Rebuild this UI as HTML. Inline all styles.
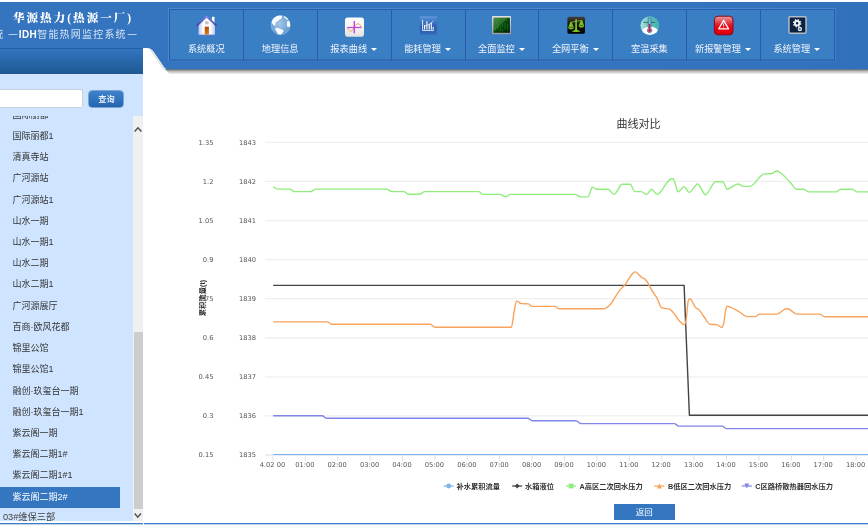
<!DOCTYPE html><html lang="zh"><head><meta charset="utf-8"><title>IDH智能热网监控系统</title><style>
html,body{margin:0;padding:0;}
body{width:868px;height:525px;overflow:hidden;background:#fff;position:relative;font-family:"Liberation Sans","Noto Sans CJK SC",sans-serif;}
.abs{position:absolute;}
#side{left:0;top:73px;width:143px;height:448px;background:#cfe4fe;overflow:hidden;}
#sidehead{z-index:3;left:0;top:48px;width:143px;height:25.7px;background:linear-gradient(#1d4f8c 0,#3275c2 1.2px,#2f72bb 4px,#1e5891);}
#search{left:-20px;top:89px;width:101px;height:17px;border:1px solid #c9d3de;border-radius:2px;background:#fff;}
#btn{left:89.3px;top:90.5px;width:34.2px;height:16.4px;border-radius:3px;overflow:hidden;background:linear-gradient(#3f83cb,#2465b0);color:#fff;font-size:8.2px;font-weight:500;text-align:center;line-height:18.4px;box-shadow:0 0 0 0.5px #2a62a8;}
.li{position:absolute;left:0;width:120px;height:21.2px;line-height:21.2px;font-size:9px;color:#333;padding-left:12.5px;box-sizing:border-box;white-space:nowrap;}
.li.sel{background:#3576c1;color:#fff;}
#sbar{left:132.5px;top:116px;width:10.5px;height:405px;background:#f0f0f0;}
#thumb{left:133.5px;top:332px;width:9px;height:177px;background:#cdcdcd;}
#botline{left:0;top:522.8px;width:868px;height:1.2px;background:#3d7cc9;border-bottom:1px solid #bdd3f0;}#botgap{left:143px;top:522px;width:1.2px;height:3px;background:#fff;}
#back{left:614px;top:504px;width:60.7px;height:16px;background:#3576c1;color:#fff;font-size:8.5px;text-align:center;line-height:16px;}
.nt{position:absolute;top:42px;height:14px;line-height:14px;font-size:9.2px;color:#f1f5fb;white-space:nowrap;text-align:center;width:73.85px;}
.nt i{display:inline-block;width:0;height:0;border-left:3px solid transparent;border-right:3px solid transparent;border-top:3.2px solid #fff;margin-left:4px;vertical-align:middle;position:relative;top:-0.5px;}
#t1{left:13px;top:9px;font-family:"Liberation Serif","Noto Serif CJK SC",serif;font-weight:900;font-size:11.5px;letter-spacing:2.05px;color:#fff;white-space:nowrap;line-height:18px;}
#t2{left:-6.8px;top:26px;font-size:10px;letter-spacing:1.2px;color:#d3e1f4;white-space:nowrap;line-height:18px;}
#t2 b{color:#fff;letter-spacing:0.4px;}#t2 .ds{font-size:8.8px;font-weight:bold;letter-spacing:0;position:relative;top:-0.8px;color:#bcd3ef;}
</style></head><body>
<svg class="abs" style="left:0;top:0" width="868" height="80" viewBox="0 0 868 80">
<defs><filter id="sh" x="-2%" y="-10%" width="104%" height="130%"><feGaussianBlur in="SourceAlpha" stdDeviation="1.5"/><feOffset dy="2"/><feComponentTransfer><feFuncA type="linear" slope="0.85"/></feComponentTransfer><feMerge><feMergeNode/><feMergeNode in="SourceGraphic"/></feMerge></filter>
<linearGradient id="hg" x1="0" x2="1" y1="0" y2="0"><stop offset="0" stop-color="#3575bf"/><stop offset="0.8" stop-color="#3473be"/><stop offset="1" stop-color="#3170bb"/></linearGradient></defs>
<linearGradient id="shg" x1="0" x2="0" y1="0" y2="1"><stop offset="0" stop-color="#000" stop-opacity="0.62"/><stop offset="0.35" stop-color="#000" stop-opacity="0.3"/><stop offset="1" stop-color="#000" stop-opacity="0"/></linearGradient><path d="M165 69H868V74.6H170Z" fill="url(#shg)"/><path d="M151 49L164 68L166.5 69.6L165.5 70.6L162.6 68.6L150 50Z" fill="#000" opacity="0.12"/>
<path fill="url(#hg)" d="M0 2H868V69.3H169C166.5 69.3 165.3 68.8 164.2 67.3L153.4 51.6C151.8 49.4 150 48 147 48H0Z"/>
<path d="M168.5 61V8.5H835.5" fill="none" stroke="#4789d3" stroke-width="1"/><path d="M835.5 8.5V61H168.5" fill="none" stroke="#3d7fca" stroke-width="1"/><rect x="169.5" y="9.5" width="665" height="50.5" fill="#3a7ec4" stroke="#2b5aaa" stroke-width="1"/>

<line x1="243.5" y1="10" x2="243.5" y2="60" stroke="#2b5aaa" stroke-width="1"/>
<line x1="317.5" y1="10" x2="317.5" y2="60" stroke="#2b5aaa" stroke-width="1"/>
<line x1="391.5" y1="10" x2="391.5" y2="60" stroke="#2b5aaa" stroke-width="1"/>
<line x1="465.5" y1="10" x2="465.5" y2="60" stroke="#2b5aaa" stroke-width="1"/>
<line x1="538.5" y1="10" x2="538.5" y2="60" stroke="#2b5aaa" stroke-width="1"/>
<line x1="612.5" y1="10" x2="612.5" y2="60" stroke="#2b5aaa" stroke-width="1"/>
<line x1="686.5" y1="10" x2="686.5" y2="60" stroke="#2b5aaa" stroke-width="1"/>
<line x1="760.5" y1="10" x2="760.5" y2="60" stroke="#2b5aaa" stroke-width="1"/>
</svg>
<div class="abs" id="t1">华源热力(热源一厂)</div>
<div class="abs" id="t2">统 <span class="ds" style="margin-right:1.6px">—</span><b>IDH</b>智能热网监控系统<span class="ds" style="margin-left:1px">—</span></div>
<div class="nt" style="left:169.40px">系统概况</div>
<div class="nt" style="left:243.25px">地理信息</div>
<div class="nt" style="left:316.80px">报表曲线<i></i></div>
<div class="nt" style="left:390.65px">能耗管理<i></i></div>
<div class="nt" style="left:464.50px">全面监控<i></i></div>
<div class="nt" style="left:538.35px">全网平衡<i></i></div>
<div class="nt" style="left:612.50px">室温采集</div>
<div class="nt" style="left:686.05px">新报警管理<i></i></div>
<div class="nt" style="left:759.90px">系统管理<i></i></div>
<svg class="abs" style="left:0;top:0" width="868" height="64" viewBox="0 0 868 64">
<defs>
<linearGradient id="g_roof" x1="0" y1="0" x2="0" y2="1"><stop offset="0" stop-color="#8584e6"/><stop offset="1" stop-color="#3c3fa6"/></linearGradient>
<linearGradient id="g_wall" x1="0" y1="0" x2="1" y2="0"><stop offset="0" stop-color="#c4c4f6"/><stop offset="0.3" stop-color="#ffffff"/><stop offset="0.7" stop-color="#ffffff"/><stop offset="1" stop-color="#c9c9f8"/></linearGradient>
<linearGradient id="g_door" x1="0" y1="0" x2="0" y2="1"><stop offset="0" stop-color="#a84a04"/><stop offset="0.5" stop-color="#c8640c"/><stop offset="1" stop-color="#d8781c"/></linearGradient>
<radialGradient id="g_globe" cx="0.45" cy="0.42" r="0.6"><stop offset="0" stop-color="#a4c8e8"/><stop offset="0.7" stop-color="#74a8d6"/><stop offset="1" stop-color="#5c96ca"/></radialGradient>
<linearGradient id="g_white" x1="0" y1="0" x2="0" y2="1"><stop offset="0" stop-color="#ffffff"/><stop offset="0.5" stop-color="#f4f4f4"/><stop offset="1" stop-color="#e2e2e2"/></linearGradient>
<linearGradient id="g_bsq" x1="0" y1="0" x2="0" y2="1"><stop offset="0" stop-color="#66a2e2"/><stop offset="0.12" stop-color="#4a84cf"/><stop offset="0.6" stop-color="#2e5eae"/><stop offset="1" stop-color="#3468b8"/></linearGradient>
<linearGradient id="g_mx" x1="0" y1="0" x2="1" y2="1"><stop offset="0" stop-color="#4a8a4a"/><stop offset="0.45" stop-color="#2c6a2c"/><stop offset="0.46" stop-color="#0c4a0c"/><stop offset="1" stop-color="#031a03"/></linearGradient>
<linearGradient id="g_frame" x1="0" y1="0" x2="0" y2="1"><stop offset="0" stop-color="#e4e4e4"/><stop offset="1" stop-color="#9a9aa0"/></linearGradient>
<linearGradient id="g_blk" x1="0" y1="0" x2="0" y2="1"><stop offset="0" stop-color="#45403a"/><stop offset="0.4" stop-color="#181818"/><stop offset="1" stop-color="#000000"/></linearGradient>
<linearGradient id="g_teal" x1="0" y1="0" x2="1" y2="0"><stop offset="0" stop-color="#aee6de"/><stop offset="0.5" stop-color="#5cc0ba"/><stop offset="1" stop-color="#42b2ae"/></linearGradient>
<linearGradient id="g_red" x1="0" y1="0" x2="0" y2="1"><stop offset="0" stop-color="#eaa0a0"/><stop offset="0.45" stop-color="#e02030"/><stop offset="0.6" stop-color="#f4000c"/><stop offset="1" stop-color="#d80010"/></linearGradient>
<clipPath id="c_globe"><circle cx="280.6" cy="25.1" r="9.8"/></clipPath>
<clipPath id="c_th"><circle cx="649.9" cy="25.6" r="9.4"/></clipPath>
</defs>
<!-- 1 house -->
<g>
<rect x="211.9" y="16.8" width="2.6" height="7" fill="#ffffff"/>
<path d="M198.6 25.2L206.6 17.6L214.9 25.2V35H198.6Z" fill="url(#g_wall)"/>
<path d="M198.6 34.4H214.9V35.4H198.6Z" fill="#7a7ae8" opacity="0.8"/>
<path d="M196.6 25.6L206.6 16.4L216.6 25.6" fill="none" stroke="url(#g_roof)" stroke-width="1.7" stroke-linejoin="miter"/>
<rect x="205" y="21.2" width="3.6" height="3.2" fill="#c6c6cc"/>
<rect x="204.7" y="26.7" width="4.2" height="7.9" fill="url(#g_door)"/>
</g>
<!-- 2 globe -->
<g>
<circle cx="280.6" cy="25.1" r="9.6" fill="url(#g_globe)" stroke="#a9cbe9" stroke-width="0.5"/>
<g clip-path="url(#c_globe)" fill="#ffffff" opacity="0.93">
<path d="M271.6 20.5C272.5 17.5 275.5 15.6 279.5 15.3C281.5 15.2 282.3 16.3 282 17.6C281.6 19 279.5 19.6 278.5 20.6C277.3 21.8 276.2 22 275.6 23.2C275.2 24 276 25 275 25.6C274 26 273.4 24.6 272.6 24C271.6 23.2 271.2 22 271.6 20.5Z"/>
<path d="M275.2 28.6C276 27.4 277.6 27.6 279 28.2C280.6 28.9 282.6 29.6 283.6 30.6C284 31.6 282.8 32.6 282 33.4C281 34.4 279.6 35 278.6 34.6C277.4 34 277.2 32.4 276.4 31.4C275.6 30.4 274.8 29.6 275.2 28.6Z"/>
<path d="M287.2 21.4C287.8 20.6 289.4 20.6 290.2 22C290.8 23.4 290.6 25.6 290 26.8C289.2 27.4 287.6 27 287.1 26.2C286.8 24.8 286.8 22.6 287.2 21.4Z"/>
<path d="M284.2 16.2C285.2 15.8 286.6 16.8 287.6 18C288.2 18.8 288.2 19.8 287.4 19.8C286.4 19.6 285.6 18.6 284.8 18C284 17.4 283.6 16.6 284.2 16.2Z" opacity="0.9"/>
</g>
</g>
<!-- 3 curve -->
<g>
<rect x="345" y="17.6" width="19" height="19.1" rx="2.8" fill="url(#g_white)"/>
<path d="M347.4 27.5C348.4 32 352.2 32.6 354.3 27.5C356.4 22.2 360.2 22.8 361.2 27.5" fill="none" stroke="#f0a64a" stroke-width="1"/>
<line x1="354.3" y1="21" x2="354.3" y2="33.2" stroke="#c244dc" stroke-width="1.4"/>
<line x1="347.2" y1="27.5" x2="361.4" y2="27.5" stroke="#c244dc" stroke-width="1.2"/>
</g>
<!-- 4 bar chart -->
<g>
<rect x="419.8" y="16.5" width="17.1" height="18" fill="url(#g_bsq)"/>
<path d="M422.6 19.8V30.4H433.9" fill="none" stroke="#ffffff" stroke-width="0.9" opacity="0.95"/>
<g stroke="#ffffff" stroke-width="1.1">
<line x1="424.6" y1="25" x2="424.6" y2="29.6"/><line x1="426.9" y1="21.2" x2="426.9" y2="29.6"/><line x1="429.2" y1="24" x2="429.2" y2="29.6"/><line x1="431.3" y1="22.6" x2="431.3" y2="29.6"/><line x1="433.2" y1="27" x2="433.2" y2="29.6"/>
</g>
<path d="M424.4 26.4L428.4 24.6L431 23.2L433.6 20.8" fill="none" stroke="#e8f0ff" stroke-width="0.7"/>
</g>
<!-- 5 matrix -->
<g>
<rect x="492" y="16" width="19" height="18.3" rx="0.8" fill="url(#g_frame)"/>
<rect x="493.4" y="17.6" width="16.5" height="15.2" fill="url(#g_mx)"/>
<g fill="#1fae1f" opacity="0.5">
<rect x="495" y="27" width="0.9" height="3.6"/><rect x="497.4" y="24.6" width="0.9" height="5"/><rect x="499.8" y="26" width="0.9" height="5.4"/><rect x="502.2" y="23.4" width="0.9" height="4.2"/><rect x="502.2" y="29" width="0.9" height="2.4"/><rect x="504.6" y="22.6" width="0.9" height="7"/><rect x="507" y="24" width="0.9" height="6.6"/><rect x="496.2" y="19" width="0.9" height="4"/><rect x="499" y="18.6" width="0.9" height="3"/><rect x="503.4" y="18.6" width="0.9" height="2.6"/><rect x="506" y="19" width="0.9" height="2"/>
</g>
</g>
<!-- 6 balance -->
<g>
<rect x="567.4" y="16.8" width="17.6" height="16.9" rx="1.6" fill="url(#g_blk)"/>
<g fill="#7cc322" stroke="none">
<path d="M575.3 19.6C575.5 18.9 576.7 18.9 576.9 19.6L577 29C577.2 30.2 578.6 30.6 580.4 31C580.6 31.6 578 32 576.1 32C574.2 32 571.6 31.6 571.8 31C573.6 30.6 575 30.2 575.2 29Z"/>
<path d="M570.4 22L571.6 21.8L573.8 27.6C573.6 29 572 29.4 571 29.4C570 29.4 568.4 29 568.2 27.6Z"/>
<path d="M580.8 20.2L582 20L584.2 25.8C584 27.2 582.4 27.6 581.4 27.6C580.4 27.6 578.8 27.2 578.6 25.8Z"/>
</g>
<path d="M571 22.4L576 21.2L581.4 20.6" fill="none" stroke="#7cc322" stroke-width="0.8"/>
<path d="M569.2 27.2H572.8M579.6 25.4H583.2" stroke="#10200a" stroke-width="0.6"/>
</g>
<!-- 7 thermometer -->
<g>
<circle cx="649.9" cy="25.6" r="9.4" fill="url(#g_teal)"/>
<g clip-path="url(#c_th)"><ellipse cx="650" cy="32.6" rx="8.6" ry="6" fill="#ffffff"/></g>
<line x1="643.3" y1="22.4" x2="655" y2="22.4" stroke="#2f5a54" stroke-width="0.8"/>
<path d="M648.3 18.6C648.3 17.6 650.9 17.6 650.9 18.6V28.6C652.4 29.6 652.2 32.6 649.6 32.8C647 32.6 646.8 29.6 648.3 28.6Z" fill="#7fd0ca" stroke="#3a55b0" stroke-width="0.7"/>
<path d="M648.9 24H650.3V28.9C651.6 29.6 651.4 32 649.6 32.1C647.8 32 647.6 29.6 648.9 28.9Z" fill="#dc1c40"/>
</g>
<!-- 8 alarm -->
<g>
<rect x="714.4" y="16.2" width="18.6" height="18.6" rx="3.6" fill="url(#g_red)" stroke="#8e0612" stroke-width="1"/>
<path d="M723.6 20.4L728.6 28.8H718.8Z" fill="none" stroke="#ffffff" stroke-width="1.3" stroke-linejoin="round"/>
<path d="M723.6 23.4V26.4M723.6 27.2V28" stroke="#ffffff" stroke-width="0.8"/>
</g>
<!-- 9 gear -->
<g>
<rect x="788.2" y="16" width="18.6" height="17.9" rx="1.8" fill="#b4bcc6"/>
<rect x="789.7" y="17.4" width="15.6" height="15.1" rx="0.6" fill="#0b2341"/>
<circle cx="797.1" cy="23.2" r="3.4" fill="none" stroke="#f2f2f2" stroke-width="1.7" stroke-dasharray="1.4 1.27"/>
<circle cx="797.1" cy="23.2" r="2.2" fill="none" stroke="#f2f2f2" stroke-width="1.9"/>
<circle cx="799.9" cy="29" r="2.2" fill="#e2e4e8"/>
<path d="M799.3 27.9L801.1 29L799.3 30.1Z" fill="#0b2341"/>
</g>
</svg>

<div class="abs" id="sidehead"></div><div class="abs" id="side">
<div class="li" style="top:31.68px">国际丽都</div>
<div class="li" style="top:52.9px">国际丽都1</div>
<div class="li" style="top:74.12px">清真寺站</div>
<div class="li" style="top:95.34px">广河源站</div>
<div class="li" style="top:116.56px">广河源站1</div>
<div class="li" style="top:137.78px">山水一期</div>
<div class="li" style="top:159.0px">山水一期1</div>
<div class="li" style="top:180.22px">山水二期</div>
<div class="li" style="top:201.43999999999997px">山水二期1</div>
<div class="li" style="top:222.66px">广河源展厅</div>
<div class="li" style="top:243.88000000000002px">百商·欧风花都</div>
<div class="li" style="top:265.09999999999997px">锦里公馆</div>
<div class="li" style="top:286.31999999999994px">锦里公馆1</div>
<div class="li" style="top:307.53999999999996px">融创·玖玺台一期</div>
<div class="li" style="top:328.76px">融创·玖玺台一期1</div>
<div class="li" style="top:349.97999999999996px">紫云阁一期</div>
<div class="li" style="top:371.19999999999993px">紫云阁二期1#</div>
<div class="li" style="top:392.41999999999996px">紫云阁二期1#1</div>
<div class="li sel" style="top:413.64px">紫云阁二期2#</div>
<div class="li" style="top:434.3px;left:-9.5px;font-size:9.2px;color:#444">03#维保三部</div>
</div>
<div class="abs" style="left:0;top:73px;width:143px;height:43px;background:#cfe4fe"></div>
<div class="abs" id="search"></div><div class="abs" id="btn">查询</div>
<div class="abs" id="sbar"></div><div class="abs" id="thumb"></div>
<svg class="abs" style="left:133px;top:116px" width="10" height="407" viewBox="0 0 10 407"><path d="M1.6 15.4L5 11.8L8.4 15.4" fill="none" stroke="#505050" stroke-width="1.5"/><path d="M1.7 397.6L4.8 401.2L7.9 397.6" fill="none" stroke="#505050" stroke-width="1.5"/></svg>
<svg class="abs" style="left:0;top:0" width="868" height="525" viewBox="0 0 868 525" font-family="'DejaVu Sans','Noto Sans CJK SC',sans-serif">
<line x1="265" x2="868" y1="142.40" y2="142.40" stroke="#efefef" stroke-width="1.3"/>
<line x1="265" x2="868" y1="181.47" y2="181.47" stroke="#efefef" stroke-width="1.3"/>
<line x1="265" x2="868" y1="220.54" y2="220.54" stroke="#efefef" stroke-width="1.3"/>
<line x1="265" x2="868" y1="259.61" y2="259.61" stroke="#efefef" stroke-width="1.3"/>
<line x1="265" x2="868" y1="298.68" y2="298.68" stroke="#efefef" stroke-width="1.3"/>
<line x1="265" x2="868" y1="337.75" y2="337.75" stroke="#efefef" stroke-width="1.3"/>
<line x1="265" x2="868" y1="376.82" y2="376.82" stroke="#efefef" stroke-width="1.3"/>
<line x1="265" x2="868" y1="415.89" y2="415.89" stroke="#efefef" stroke-width="1.3"/>
<line x1="265" x2="868" y1="455" y2="455" stroke="#d3deec" stroke-width="1"/>
<line x1="272.9" x2="272.9" y1="455" y2="460.7" stroke="#d3deec" stroke-width="0.9"/>
<line x1="305.3" x2="305.3" y1="455" y2="460.7" stroke="#d3deec" stroke-width="0.9"/>
<line x1="337.7" x2="337.7" y1="455" y2="460.7" stroke="#d3deec" stroke-width="0.9"/>
<line x1="370.1" x2="370.1" y1="455" y2="460.7" stroke="#d3deec" stroke-width="0.9"/>
<line x1="402.5" x2="402.5" y1="455" y2="460.7" stroke="#d3deec" stroke-width="0.9"/>
<line x1="434.9" x2="434.9" y1="455" y2="460.7" stroke="#d3deec" stroke-width="0.9"/>
<line x1="467.3" x2="467.3" y1="455" y2="460.7" stroke="#d3deec" stroke-width="0.9"/>
<line x1="499.7" x2="499.7" y1="455" y2="460.7" stroke="#d3deec" stroke-width="0.9"/>
<line x1="532.1" x2="532.1" y1="455" y2="460.7" stroke="#d3deec" stroke-width="0.9"/>
<line x1="564.5" x2="564.5" y1="455" y2="460.7" stroke="#d3deec" stroke-width="0.9"/>
<line x1="596.9" x2="596.9" y1="455" y2="460.7" stroke="#d3deec" stroke-width="0.9"/>
<line x1="629.3" x2="629.3" y1="455" y2="460.7" stroke="#d3deec" stroke-width="0.9"/>
<line x1="661.7" x2="661.7" y1="455" y2="460.7" stroke="#d3deec" stroke-width="0.9"/>
<line x1="694.1" x2="694.1" y1="455" y2="460.7" stroke="#d3deec" stroke-width="0.9"/>
<line x1="726.5" x2="726.5" y1="455" y2="460.7" stroke="#d3deec" stroke-width="0.9"/>
<line x1="758.9" x2="758.9" y1="455" y2="460.7" stroke="#d3deec" stroke-width="0.9"/>
<line x1="791.3" x2="791.3" y1="455" y2="460.7" stroke="#d3deec" stroke-width="0.9"/>
<line x1="823.7" x2="823.7" y1="455" y2="460.7" stroke="#d3deec" stroke-width="0.9"/>
<line x1="856.1" x2="856.1" y1="455" y2="460.7" stroke="#d3deec" stroke-width="0.9"/>
<text x="213.5" y="144.70" font-size="6.7" fill="#555" text-anchor="end">1.35</text>
<text x="256" y="144.70" font-size="6.7" fill="#555" text-anchor="end">1843</text>
<text x="213.5" y="183.77" font-size="6.7" fill="#555" text-anchor="end">1.2</text>
<text x="256" y="183.77" font-size="6.7" fill="#555" text-anchor="end">1842</text>
<text x="213.5" y="222.84" font-size="6.7" fill="#555" text-anchor="end">1.05</text>
<text x="256" y="222.84" font-size="6.7" fill="#555" text-anchor="end">1841</text>
<text x="213.5" y="261.91" font-size="6.7" fill="#555" text-anchor="end">0.9</text>
<text x="256" y="261.91" font-size="6.7" fill="#555" text-anchor="end">1840</text>
<text x="213.5" y="300.98" font-size="6.7" fill="#555" text-anchor="end">0.75</text>
<text x="256" y="300.98" font-size="6.7" fill="#555" text-anchor="end">1839</text>
<text x="213.5" y="340.05" font-size="6.7" fill="#555" text-anchor="end">0.6</text>
<text x="256" y="340.05" font-size="6.7" fill="#555" text-anchor="end">1838</text>
<text x="213.5" y="379.12" font-size="6.7" fill="#555" text-anchor="end">0.45</text>
<text x="256" y="379.12" font-size="6.7" fill="#555" text-anchor="end">1837</text>
<text x="213.5" y="418.19" font-size="6.7" fill="#555" text-anchor="end">0.3</text>
<text x="256" y="418.19" font-size="6.7" fill="#555" text-anchor="end">1836</text>
<text x="213.5" y="457.26" font-size="6.7" fill="#555" text-anchor="end">0.15</text>
<text x="256" y="457.26" font-size="6.7" fill="#555" text-anchor="end">1835</text>
<text x="272.4" y="467" font-size="6.7" fill="#555" text-anchor="middle">4.02 00</text>
<text x="304.8" y="467" font-size="6.7" fill="#555" text-anchor="middle">01:00</text>
<text x="337.2" y="467" font-size="6.7" fill="#555" text-anchor="middle">02:00</text>
<text x="369.6" y="467" font-size="6.7" fill="#555" text-anchor="middle">03:00</text>
<text x="402.0" y="467" font-size="6.7" fill="#555" text-anchor="middle">04:00</text>
<text x="434.4" y="467" font-size="6.7" fill="#555" text-anchor="middle">05:00</text>
<text x="466.8" y="467" font-size="6.7" fill="#555" text-anchor="middle">06:00</text>
<text x="499.2" y="467" font-size="6.7" fill="#555" text-anchor="middle">07:00</text>
<text x="531.6" y="467" font-size="6.7" fill="#555" text-anchor="middle">08:00</text>
<text x="564.0" y="467" font-size="6.7" fill="#555" text-anchor="middle">09:00</text>
<text x="596.4" y="467" font-size="6.7" fill="#555" text-anchor="middle">10:00</text>
<text x="628.8" y="467" font-size="6.7" fill="#555" text-anchor="middle">11:00</text>
<text x="661.2" y="467" font-size="6.7" fill="#555" text-anchor="middle">12:00</text>
<text x="693.6" y="467" font-size="6.7" fill="#555" text-anchor="middle">13:00</text>
<text x="726.0" y="467" font-size="6.7" fill="#555" text-anchor="middle">14:00</text>
<text x="758.4" y="467" font-size="6.7" fill="#555" text-anchor="middle">15:00</text>
<text x="790.8" y="467" font-size="6.7" fill="#555" text-anchor="middle">16:00</text>
<text x="823.2" y="467" font-size="6.7" fill="#555" text-anchor="middle">17:00</text>
<text x="855.6" y="467" font-size="6.7" fill="#555" text-anchor="middle">18:00</text>
<text x="638.5" y="127.9" font-size="11" fill="#333" text-anchor="middle" font-family="'Liberation Sans','Noto Sans CJK SC',sans-serif">曲线对比</text>
<text transform="translate(205.3,298) rotate(-90)" font-size="7.3" font-weight="bold" fill="#333" text-anchor="middle" font-family="'Liberation Sans','Noto Sans CJK SC',sans-serif">累积流量(t)</text>
<path d="M273.2 454.5L868.0 454.5" fill="none" stroke="#7cb5ec" stroke-width="1.1"/>
<path d="M273.2 285.4L684.1 285.4L689.4 415.3L868.0 415.3" fill="none" stroke="#434348" stroke-width="1.4" stroke-linejoin="round"/>
<path d="M273.2 186.8C274.7 187.6 276.2 189.1 277.7 189.1C281.8 189.1 285.8 189.1 289.9 189.1C291.3 189.1 292.8 191.6 294.2 191.6C299.7 191.6 305.2 191.6 310.7 191.6C312.4 191.6 314.1 189.1 315.8 189.1C339.4 189.1 363.1 189.1 386.7 189.1C388.4 189.1 390.1 191.6 391.8 191.6C395.9 191.6 399.9 191.6 404.0 191.6C405.4 191.6 406.9 194.2 408.3 194.2C412.1 194.2 415.9 194.2 419.7 194.2C421.4 194.2 423.1 191.6 424.8 191.6C442.8 191.6 460.9 191.6 478.9 191.6C480.2 191.6 481.4 194.4 482.7 194.4C488.6 194.4 494.5 194.4 500.4 194.4C502.1 194.4 503.8 196.9 505.5 196.9C507.2 196.9 508.9 194.4 510.6 194.4C532.1 194.4 553.7 194.4 575.2 194.4C576.9 194.4 578.6 196.9 580.3 196.9C582.8 196.9 585.4 196.9 587.9 196.9C588.7 196.9 589.5 193.8 590.3 192.0C590.9 190.5 591.6 187.1 592.2 187.1C593.7 187.1 595.2 189.3 596.7 189.3C600.5 189.3 604.3 189.3 608.1 189.3C610.1 189.3 612.0 194.4 614.0 194.4C616.7 194.4 619.4 184.3 622.1 184.3C624.8 184.3 627.5 184.3 630.2 184.3C631.7 184.3 633.3 191.6 634.8 191.6C636.9 191.6 639.0 191.6 641.1 191.6C643.0 191.6 644.8 194.4 646.7 194.4C648.3 194.4 649.9 189.3 651.5 189.3C653.4 189.3 655.2 194.4 657.1 194.4C658.1 194.4 659.0 193.4 660.0 192.4C663.2 189.2 666.4 182.0 669.6 179.6C670.8 178.7 672.0 178.7 673.2 178.7C673.8 178.7 674.3 181.3 674.9 182.8C675.9 185.6 677.0 191.9 678.0 191.9C680.0 191.9 682.0 186.8 684.0 186.8C685.7 186.8 687.5 192.4 689.2 192.4C692.0 192.4 694.8 184.0 697.6 184.0C700.2 184.0 702.9 194.7 705.5 194.7C708.9 194.7 712.2 181.8 715.6 181.8C718.0 181.8 720.4 181.8 722.8 181.8C724.2 181.8 725.7 189.2 727.1 189.2C730.7 189.2 734.3 184.0 737.9 184.0C739.7 184.0 741.6 186.4 743.4 186.4C745.6 186.4 747.7 186.4 749.9 186.4C754.7 186.4 759.4 174.2 764.2 173.9C766.6 173.7 769.0 173.8 771.4 173.7C773.2 173.6 774.9 171.0 776.7 171.0C778.1 171.0 779.6 172.1 781.0 173.2C784.2 175.6 787.4 179.5 790.6 182.8C792.6 184.9 794.6 189.2 796.6 189.2C799.0 189.2 801.4 189.2 803.8 189.2C805.4 189.2 807.0 191.9 808.6 191.9C817.8 191.9 826.9 191.9 836.1 191.9C837.7 191.9 839.3 189.2 840.9 189.2C844.7 189.2 848.6 189.2 852.4 189.2C853.9 189.2 855.5 191.9 857.0 191.9C860.7 191.9 864.3 191.9 868.0 191.9" fill="none" stroke="#90ed7d" stroke-width="1.4" stroke-linejoin="round"/>
<path d="M273.2 321.9C291.2 321.9 309.2 321.9 327.2 321.9C328.7 321.9 330.2 324.2 331.7 324.2C364.6 324.2 397.4 324.2 430.3 324.2C431.8 324.2 433.4 327.3 434.9 327.3C460.4 327.3 485.9 327.3 511.4 327.3C512.2 327.3 513.1 317.6 513.9 313.2C514.7 308.8 515.6 301.1 516.4 301.1C518.1 301.1 519.8 303.5 521.5 303.6C523.8 303.8 526.0 303.7 528.3 303.9C529.6 304.0 530.8 306.4 532.1 306.4C539.7 306.4 547.3 306.4 554.9 306.4C556.2 306.4 557.4 308.7 558.7 308.7C573.9 308.7 589.1 308.7 604.3 308.7C606.0 308.7 607.7 307.4 609.4 305.6C612.8 302.0 616.2 294.7 619.6 290.4C621.3 288.3 622.9 287.4 624.6 285.3C627.1 282.1 629.7 276.6 632.2 273.9C633.3 272.7 634.4 271.9 635.5 271.9C636.5 271.9 637.6 273.5 638.6 274.4C639.7 275.4 640.8 276.9 641.9 277.7C642.9 278.4 643.9 278.1 644.9 279.0C646.0 280.0 647.1 281.5 648.2 283.3C649.2 284.9 650.2 287.4 651.2 289.2C653.3 293.0 655.5 295.3 657.6 299.3C658.9 301.7 660.1 307.1 661.4 307.7C663.9 308.8 666.5 308.4 669.0 308.9C670.3 309.1 671.5 310.6 672.8 312.0C675.3 314.7 677.9 319.6 680.4 322.1C681.7 323.4 682.9 324.6 684.2 324.6C684.9 324.6 685.5 323.5 686.2 319.6C686.9 315.7 687.5 303.8 688.2 301.0C688.7 298.8 689.3 298.8 689.8 298.8C690.4 298.8 691.1 299.7 691.7 300.6C692.8 302.2 694.0 305.3 695.1 306.8C696.6 308.8 698.2 308.9 699.7 310.6C701.2 312.3 702.7 315.0 704.2 317.0C706.1 319.6 708.0 324.1 709.9 324.3C712.2 324.6 714.5 324.5 716.8 324.6C718.5 324.7 720.1 327.5 721.8 327.5C722.4 327.5 723.0 326.4 723.6 323.9C724.4 320.7 725.1 312.1 725.9 309.0C726.4 306.8 727.0 306.3 727.5 306.3C728.5 306.3 729.4 306.8 730.4 307.2C733.1 308.3 735.7 309.8 738.4 311.3C741.5 313.0 744.5 316.6 747.6 316.6C750.2 316.6 752.9 316.6 755.5 316.6C756.8 316.6 758.1 314.1 759.4 314.1C765.2 314.1 771.0 314.1 776.8 314.1C780.0 314.1 783.1 308.8 786.3 308.8C787.1 308.8 787.8 308.8 788.6 309.0C791.3 309.7 793.9 314.1 796.6 314.1C804.2 314.1 811.8 314.1 819.4 314.1C821.3 314.1 823.2 316.8 825.1 316.8C839.4 316.8 853.7 316.8 868.0 316.8" fill="none" stroke="#f7a35c" stroke-width="1.4" stroke-linejoin="round"/>
<path d="M273.2 415.7C289.5 415.7 305.8 415.7 322.1 415.7C323.5 415.7 325.0 418.3 326.4 418.3C393.6 418.3 460.7 418.3 527.9 418.3C529.3 418.3 530.8 420.8 532.2 420.8C546.8 420.8 561.4 420.8 576.0 420.8C577.7 420.8 579.4 423.6 581.1 423.6C612.2 423.6 643.3 423.6 674.4 423.6C675.8 423.6 677.3 426.1 678.7 426.1C693.2 426.1 707.8 426.1 722.3 426.1C723.6 426.1 724.8 428.6 726.1 428.6C773.4 428.6 820.7 428.6 868.0 428.6" fill="none" stroke="#8085e9" stroke-width="1.4" stroke-linejoin="round"/>
<line x1="443.7" x2="453.7" y1="486" y2="486" stroke="#7cb5ec" stroke-width="1.25"/>
<circle cx="448.7" cy="486" r="2.4" fill="#7cb5ec"/>
<text x="456.6" y="488.8" font-size="7.25" font-weight="bold" fill="#333" font-family="'Liberation Sans','Noto Sans CJK SC',sans-serif">补水累积流量</text>
<line x1="512.2" x2="522.2" y1="486" y2="486" stroke="#434348" stroke-width="1.25"/>
<path d="M517.2 483.6L519.6 486L517.2 488.4L514.8000000000001 486Z" fill="#434348"/>
<text x="525" y="488.8" font-size="7.25" font-weight="bold" fill="#333" font-family="'Liberation Sans','Noto Sans CJK SC',sans-serif">水箱液位</text>
<line x1="566.1" x2="576.1" y1="486" y2="486" stroke="#90ed7d" stroke-width="1.25"/>
<rect x="568.7" y="483.6" width="4.8" height="4.8" fill="#90ed7d"/>
<text x="579.6" y="488.8" font-size="7.25" font-weight="bold" fill="#333" font-family="'Liberation Sans','Noto Sans CJK SC',sans-serif">A高区二次回水压力</text>
<line x1="654.4" x2="664.4" y1="486" y2="486" stroke="#f7a35c" stroke-width="1.25"/>
<path d="M659.4 483.6L661.8 488.4L657.0 488.4Z" fill="#f7a35c"/>
<text x="667.9" y="488.8" font-size="7.25" font-weight="bold" fill="#333" font-family="'Liberation Sans','Noto Sans CJK SC',sans-serif">B低区二次回水压力</text>
<line x1="741.8" x2="751.8" y1="486" y2="486" stroke="#8085e9" stroke-width="1.25"/>
<path d="M744.4 483.6L749.1999999999999 483.6L746.8 488.4Z" fill="#8085e9"/>
<text x="755.3" y="488.8" font-size="7.25" font-weight="bold" fill="#333" font-family="'Liberation Sans','Noto Sans CJK SC',sans-serif">C区路桥散热器回水压力</text>
</svg>
<div class="abs" id="back">返回</div>
<div class="abs" id="botline"></div><div class="abs" id="botgap"></div>
</body></html>
